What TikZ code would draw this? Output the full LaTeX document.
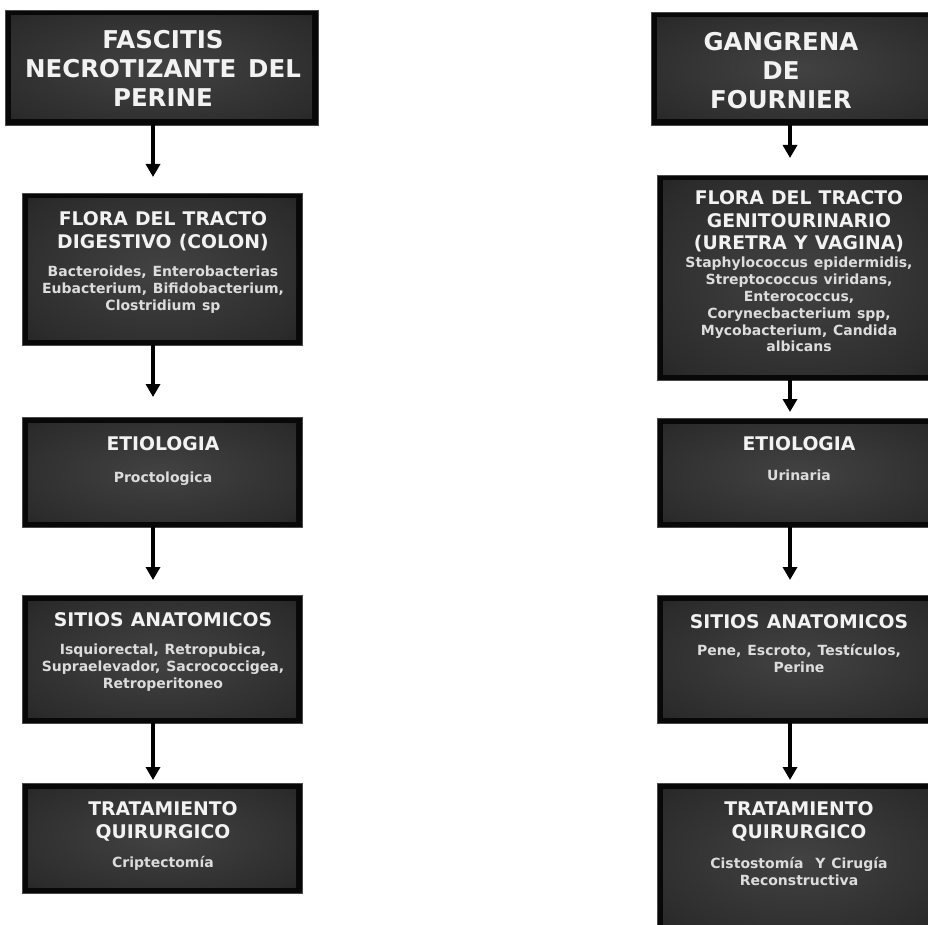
\documentclass[tikz,border=0pt]{standalone}
\usepackage{fontspec}
\setmainfont{DejaVu Sans}
\usetikzlibrary{arrows.meta}
\setlength{\parindent}{0pt}
\setlength{\parskip}{0pt}
\newcommand\ttlbig{\fontsize{24.5}{29}\selectfont\spaceskip=.48em\relax}
\newcommand\ttlmid{\fontsize{18.8}{22.5}\selectfont\spaceskip=.38em\relax}
\newcommand\bodytxt{\fontsize{14}{16.8}\selectfont\spaceskip=.42em\relax\color{bodygray}}
\definecolor{titlewhite}{HTML}{F2F2F2}
\definecolor{bodygray}{HTML}{DCDCDC}
\definecolor{rimgray}{HTML}{4A4A4A}
\pgfdeclareradialshading{boxglow}{\pgfpoint{0bp}{0bp}}{color(0bp)=(black!74); color(30bp)=(black!83); color(50bp)=(black!94); color(70bp)=(black!98)}
\tikzset{
  darkbox/.style={draw=rimgray, line width=0.8pt, fill=black!97, inner sep=0pt, outer sep=0pt,
    path picture={\shade[shading=boxglow]
      ([shift={(6pt,6pt)}]path picture bounding box.south west) rectangle
      ([shift={(-6pt,-6pt)}]path picture bounding box.north east);}},
  boxtext/.style={anchor=north, inner sep=0pt, outer sep=0pt, align=center,
    text width=300pt, text=titlewhite, font=\bfseries},
  flow/.style={line width=3.6pt, -{Triangle[width=14pt,length=13pt]}},
}
\begin{document}
\begin{tikzpicture}[x=1pt, y=-1pt]
\useasboundingbox (0,0) rectangle (928,925);
\fill[white] (0,0) rectangle (928,925);
\clip (0,0) rectangle (928,925);

% left column: perineal necrotizing fasciitis
\node[darkbox, minimum width=313pt, minimum height=115pt] (L1) at (161.5,67.5) {};
\node[darkbox, minimum width=280pt, minimum height=152pt] (L2) at (162,269) {};
\node[darkbox, minimum width=280pt, minimum height=110pt] (L3) at (162,472) {};
\node[darkbox, minimum width=280pt, minimum height=128pt] (L4) at (162,659) {};
\node[darkbox, minimum width=280pt, minimum height=110pt] (L5) at (162,838) {};

\node[boxtext] (L1t) at (163,30) {{\ttlbig FASCITIS\\NECROTIZANTE DEL\\PERINE\par}};
\node[boxtext] (L2t) at (163,212) {{\ttlmid FLORA DEL TRACTO\\DIGESTIVO (COLON)\par}\vskip11.5pt
  {\bodytxt Bacteroides, Enterobacterias\\Eubacterium, Bifidobacterium,\\Clostridium sp\par}};
\node[boxtext] (L3t) at (163,437) {{\ttlmid ETIOLOGIA\par}\vskip15pt
  {\bodytxt Proctologica\par}};
\node[boxtext] (L4t) at (163,613) {{\ttlmid SITIOS ANATOMICOS\par}\vskip11pt
  {\bodytxt Isquiorectal, Retropubica,\\Supraelevador, Sacrococcigea,\\Retroperitoneo\par}};
\node[boxtext] (L5t) at (163,802) {{\ttlmid TRATAMIENTO\\QUIRURGICO\par}\vskip12pt
  {\bodytxt Criptectomía\par}};

% right column: Fournier's gangrene
\node[darkbox, minimum width=290pt, minimum height=113pt] (R1) at (796,68.5) {};
\node[darkbox, minimum width=284pt, minimum height=205pt] (R2) at (799,277.5) {};
\node[darkbox, minimum width=284pt, minimum height=109pt] (R3) at (799,472.5) {};
\node[darkbox, minimum width=284pt, minimum height=128pt] (R4) at (799,659) {};
\node[darkbox, minimum width=284pt, minimum height=150pt] (R5) at (799,858) {};

\node[boxtext] (R1t) at (781,32) {{\ttlbig GANGRENA\\DE\\FOURNIER\par}};
\node[boxtext] (R2t) at (799,191) {{\ttlmid FLORA DEL TRACTO\\GENITOURINARIO\\(URETRA Y VAGINA)\par}\vskip1.2pt
  {\bodytxt Staphylococcus epidermidis,\\Streptococcus viridans,\\Enterococcus,\\Corynecbacterium spp,\\Mycobacterium, Candida\\albicans\par}};
\node[boxtext] (R3t) at (799,437) {{\ttlmid ETIOLOGIA\par}\vskip13pt
  {\bodytxt Urinaria\par}};
\node[boxtext] (R4t) at (799,615) {{\ttlmid SITIOS ANATOMICOS\par}\vskip10pt
  {\bodytxt Pene, Escroto, Testículos,\\Perine\par}};
\node[boxtext] (R5t) at (799,802) {{\ttlmid TRATAMIENTO\\QUIRURGICO\par}\vskip13pt
  {\bodytxt Cistostomía\ \ Y Cirugía\\Reconstructiva\par}};

% connectors
\coordinate (lax) at (153,0);
\coordinate (rax) at (790,0);
\draw[flow, shorten >=16pt] (L1.south -| lax) -- (L2.north -| lax);
\draw[flow, shorten >=20pt] (L2.south -| lax) -- (L3.north -| lax);
\draw[flow, shorten >=15pt] (L3.south -| lax) -- (L4.north -| lax);
\draw[flow, shorten >=3pt]  (L4.south -| lax) -- (L5.north -| lax);
\draw[flow, shorten >=17pt] (R1.south -| rax) -- (R2.north -| rax);
\draw[flow, shorten >=6pt]  (R2.south -| rax) -- (R3.north -| rax);
\draw[flow, shorten >=15pt] (R3.south -| rax) -- (R4.north -| rax);
\draw[flow, shorten >=3pt]  (R4.south -| rax) -- (R5.north -| rax);
\end{tikzpicture}
\end{document}
